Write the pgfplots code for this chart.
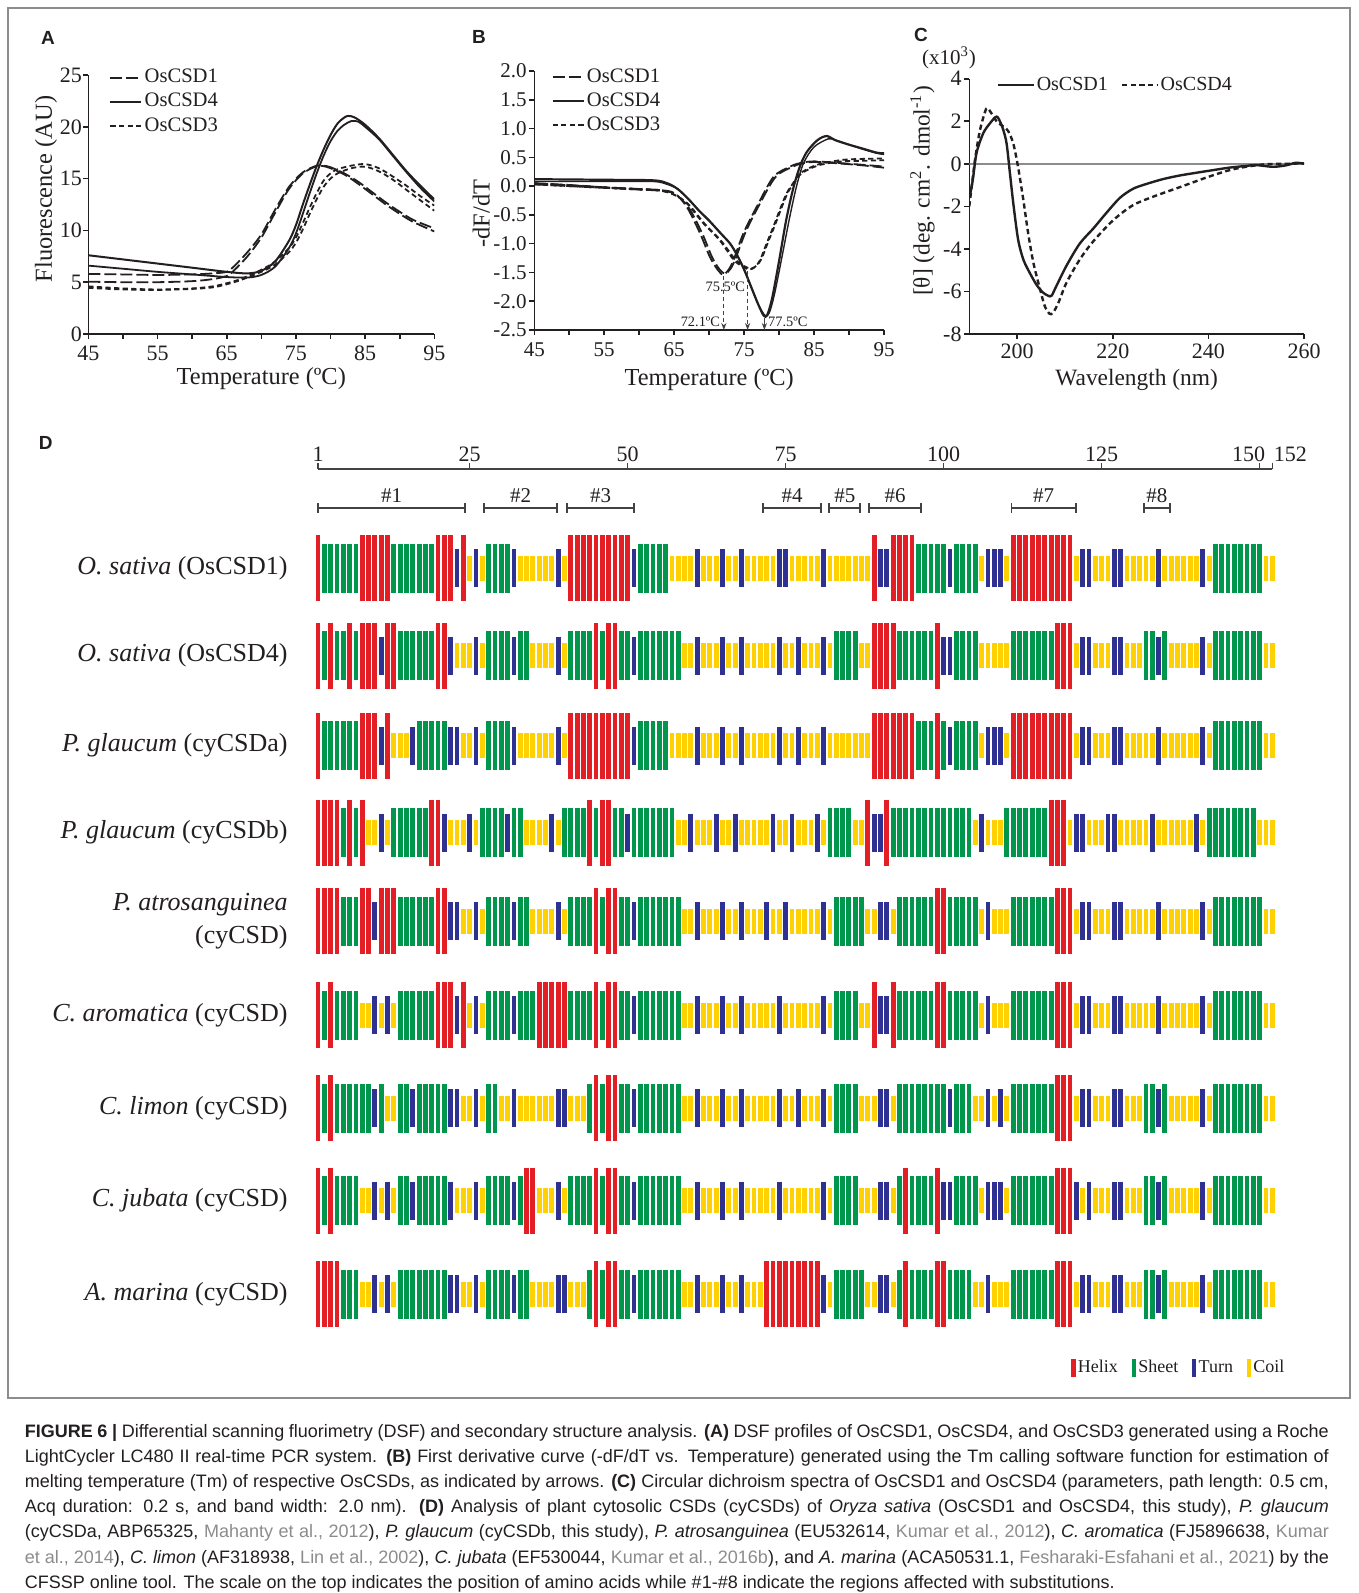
\documentclass[border=0pt]{standalone}
\usepackage{pgfplots}
\pgfplotsset{compat=1.18}
\usepackage{pgfplotstable}
\usepackage{fontspec}
\setmainfont{Liberation Serif}
\newfontfamily\capfont{Liberation Sans}
\usetikzlibrary{arrows.meta}

\definecolor{ink}{HTML}{231F20}
\definecolor{cH}{HTML}{E31E24}
\definecolor{cE}{HTML}{00964B}
\definecolor{cT}{HTML}{2E3192}
\definecolor{cC}{HTML}{FFD100}
\definecolor{citegray}{HTML}{8C8C8C}

\pgfplotsset{
  panel/.style={scale only axis, anchor=south west,
    axis x line=bottom, axis y line=left,
    axis line style={-, ink, line width=0.8pt},
    tick style={ink, line width=0.8pt},
    tick align=outside, major tick length=2.5pt, minor tick length=2.5pt,
    /pgf/number format/assume math mode=true,
    tick label style={font=\fontsize{11}{13}\selectfont, text=ink, inner sep=1.2pt},
    label style={font=\fontsize{12.2}{14}\selectfont, text=ink},
    legend cell align=left,
    legend style={draw=none, fill=none, inner sep=0pt, row sep=1.5pt,
      font=\fontsize{10.3}{12}\selectfont, text=ink, nodes={inner sep=1.1pt}},
    legend image code/.code={\draw[##1] (0pt,0pt) -- (15.5pt,0pt);},
    every axis plot/.append style={line width=0.9pt, ink, smooth},
  },
  dsh/.style={dash pattern=on 6pt off 2pt},
  dtt/.style={dash pattern=on 2.6pt off 1.7pt},
  vbar legend/.style={legend image code/.code={\draw[##1] (0pt,-4.7pt) -- (0pt,4.7pt);}},
  ssrow/.style={scatter, only marks, forget plot, scatter src=explicit symbolic,
    scatter/classes={
      H={mark=|, mark size=16.5pt, draw=cH, line width=2.4pt},
      E={mark=|, mark size=12.25pt, draw=cE, line width=2.4pt},
      T={mark=|, mark size=9.5pt, draw=cT, line width=2.4pt},
      C={mark=|, mark size=6.25pt, draw=cC, line width=2.4pt}}},
}

% secondary structure per residue (CFSSP), one column per sequence
\pgfplotstableread{
r c1 c2 c3 c4 c5 c6 c7 c8 c9
1 H H H H H H H H H
2 E E E H H E E E H
3 E H E H H H H H H
4 E E E H H E E E H
5 E E E E E E E E E
6 E H E H E E E E E
7 E E E E E E E E E
8 H H H H H C E C C
9 H H H C H C E C C
10 H H H C T T T T T
11 H T T T H C E C C
12 H H H C H T C T T
13 E H C E H C C C C
14 E E C E E E E E E
15 E E C E E E E E E
16 E E T E E E T T E
17 E E E E E E E E E
18 E E E E E E E E E
19 E E E H E E E E E
20 H H E H H H E E E
21 H H E T H H E E E
22 H T T C T H T T T
23 T C T C T T T C T
24 H C C C C H C C C
25 C C C T C C C C C
26 T T T C T T T T T
27 C C C E C C C C C
28 E E E E E E E E E
29 E E E E E E E E E
30 E E E E E E C E E
31 E E E T E E C E E
32 T T T E T T T T T
33 C E C E E E C E E
34 C E C C E E C H E
35 C C C C C E C H C
36 C C C C C H C C C
37 C C C C C H C C C
38 C C C T C H C C C
39 T T T C T H T T T
40 C C C E C H T C T
41 H E H E E E C E C
42 H E H E E E C E C
43 H E H E E E C E C
44 H E H H E E E E E
45 H H H E H H H H H
46 H E H H E E E E E
47 H H H H H H H H H
48 H H H E H H H H H
49 H E H E E E E E E
50 H E H T E E E E E
51 T T T E T T T T T
52 E E E E E E E E E
53 E E E E E E E E E
54 E E E E E E E E E
55 E E E E E E E E E
56 E E E E E E E E E
57 C E C E E E E E E
58 C E C C E E E E E
59 C C C C C C C C C
60 C C C T C C C C C
61 T T T C T T T T T
62 C C C C C C C C C
63 C C C C C C C C C
64 C C C T C C C C C
65 T T T C T T T T T
66 C C C C C C C C C
67 C C C T C C C C C
68 T T T C T T T T T
69 C C C C C C C C C
70 C C C C C C C C C
71 C C C C C C C C C
72 C C C C T C C C H
73 C C C T C C C C H
74 T T T C C T T T H
75 T C C C T C C C H
76 C C C T C C C C H
77 C T T C C C T C H
78 C C C C C C C C H
79 C C C C C C C C H
80 C C C T C C C C H
81 T T T C T T T T T
82 C C C E C C C C C
83 C E C E E E E E E
84 C E C E E E E E E
85 C E C E E E E E E
86 C E C C E E E E E
87 C C C C E C C C E
88 C C C H C C C C C
89 H H H T C H C C C
90 T H H T T T T T T
91 T H H H T T T T T
92 H H H E C H C C C
93 H E H E E E E E E
94 H E H E E E E H H
95 H E H E E E E E E
96 E E E E E E E E E
97 E E E E E E E E E
98 E E E E E E E E E
99 E H H E H H E H H
100 E T E E H H E T H
101 T T T E E E T T E
102 E E E E E E E E E
103 E E E E E E E E E
104 E E E E E E E E E
105 E E E C E E C E C
106 C C C T C C C C C
107 T C T C T T T T T
108 T C T C C C C T C
109 T C T C C C T T C
110 C C C E C C C C C
111 H E H E E E E E E
112 H E H E E E E E E
113 H E H E E E E E E
114 H E H E E E E E E
115 H E H E E E E E E
116 H E H E E E E E E
117 H E H H E E E E E
118 H H H H H H H H H
119 H H H H H H H H H
120 H H H C H H H H H
121 C C C T C C C T C
122 T T T T T T T C T
123 T T T C T T T T T
124 C C C C C C C C C
125 C C C C C C C C C
126 C C C T C C C C C
127 T T T T T T T T T
128 T T T C T T T T T
129 C C C C C C C C C
130 C C C C C C C C C
131 C C C C C C C C C
132 C E C C C C E E E
133 C E C T C C E E E
134 T T T C T T T T T
135 C E C C C C E E E
136 C C C C C C C C C
137 C C C C C C C C C
138 C C C C C C C C C
139 C C C C C C C C C
140 C C C T C C C C C
141 T T T C T T T T T
142 C C C E C C C C C
143 E E E E E E E E E
144 E E E E E E E E E
145 E E E E E E E E E
146 E E E E E E E E E
147 E E E E E E E E E
148 E E E E E E E E E
149 E E E E E E E E E
150 E E E C E E E E E
151 C C C C C C C C C
152 C C C C C C C C C
}\sstab

\newcommand\spl[2]{%
  \node[anchor=east, inner sep=0pt, font=\fontsize{13}{15}\selectfont, text=ink] at (axis cs:-3.75,#1) {#2};
  \draw[black!60, line width=0.6pt] (axis cs:-0.19,#1) ++(0,17.5pt) -- ++(-2.75pt,0) -- ++(0,-35pt) -- ++(2.75pt,0);}
\newcommand\regbr[4]{%
  \draw[ink!85, line width=1.2pt] (axis cs:#1,-508) -- (axis cs:#2,-508);
  \draw[ink!85, line width=0.8pt] (axis cs:#1,-503) -- (axis cs:#1,-513) (axis cs:#2,-503) -- (axis cs:#2,-513);
  \node[font=\fontsize{10.5}{12}\selectfont, text=ink, inner sep=0pt] at (axis cs:#3,-496) {\##4};}
\newcommand\capline[2]{\node[anchor=base west, inner sep=0pt, text=ink,
  font=\capfont\fontsize{9}{11}\selectfont] at (12.2pt,#1) {\makebox[652pt][s]{#2}};}
\newcommand\caplinel[2]{\node[anchor=base west, inner sep=0pt, text=ink,
  font=\capfont\fontsize{9}{11}\selectfont] at (12.2pt,#1) {#2};}
\newcommand\cit[1]{\textcolor{citegray}{#1}}

\begin{document}
\begin{tikzpicture}
\useasboundingbox (0,0) rectangle (679pt,-796.5pt);
\fill[white] (0,0) rectangle (679pt,-796.5pt);
\draw[black!45, line width=0.6pt] (4pt,-4pt) rectangle (675pt,-699pt);

% panel letters
\node[font=\capfont\bfseries\fontsize{9.5}{10}\selectfont, text=ink] at (24pt,-19pt) {A};
\node[font=\capfont\bfseries\fontsize{9.5}{10}\selectfont, text=ink] at (239.5pt,-18.5pt) {B};
\node[font=\capfont\bfseries\fontsize{9.5}{10}\selectfont, text=ink] at (460.5pt,-17.5pt) {C};
\node[font=\capfont\bfseries\fontsize{9.5}{10}\selectfont, text=ink] at (22.85pt,-221.5pt) {D};

% ---------------- A ----------------
\begin{axis}[panel, at={(44.15pt,-167pt)}, width=173pt, height=129.5pt,
  xmin=45, xmax=95, ymin=0, ymax=25,
  xtick={45,55,...,95}, minor xtick={50,60,...,90}, ytick={0,5,...,25},
  xticklabel style={yshift=-2pt}, yticklabel style={xshift=0.7pt},
  xlabel={Temperature (ºC)}, ylabel={Fluorescence (AU)},
  xlabel style={at={(axis description cs:0.5,-0.172)}, anchor=center},
  ylabel style={at={(axis description cs:-0.122,0.56)}, anchor=center},
  legend style={at={(axis description cs:0.06,1.032)}, anchor=north west}]
\addplot[dsh] coordinates {(45,5.8)(50,5.75)(55,5.7)(60,5.75)(63,5.85)(65,6.0)(66,6.5)(68,7.9)(70,9.6)(72,12.0)(74,14.2)(76,15.6)(78,16.25)(79,16.25)(80,16.1)(82,15.5)(84,14.7)(86,13.7)(88,12.7)(90,11.8)(92,11.0)(95,10.2)};
\addlegendentry{OsCSD1}
\addplot[line width=1pt] coordinates {(45,7.6)(50,7.2)(55,6.8)(60,6.4)(65,6.0)(68,5.85)(70,6.1)(72,7.0)(74,9.0)(75,10.5)(76,12.5)(77,14.4)(78,16.2)(79,17.8)(80,19.2)(81,20.3)(82,20.9)(82.6,21.05)(83.5,20.9)(85,20.2)(87,18.9)(89,17.3)(91,15.7)(93,14.3)(95,13.0)};
\addlegendentry{OsCSD4}
\addplot[dtt] coordinates {(45,4.6)(50,4.4)(55,4.3)(60,4.4)(63,4.6)(65,4.9)(67,5.3)(70,6.2)(72,7.0)(74,8.3)(75,9.3)(76,10.7)(77,12.2)(78,13.6)(79,14.8)(80,15.5)(81,15.9)(83,16.25)(85,16.4)(87,16.0)(89,15.2)(91,14.3)(93,13.3)(95,12.4)};
\addlegendentry{OsCSD3}
\addplot[dsh, forget plot] coordinates {(45,5.05)(50,5.0)(55,5.0)(60,5.1)(63,5.3)(65,5.6)(66,6.1)(68,7.5)(70,9.3)(72,11.7)(74,14.0)(76,15.5)(78,16.2)(79,16.2)(80,16.0)(82,15.4)(84,14.5)(86,13.5)(88,12.5)(90,11.6)(92,10.8)(95,9.9)};
\addplot[forget plot] coordinates {(45,6.6)(50,6.3)(55,6.0)(60,5.75)(65,5.5)(68,5.45)(70,5.7)(72,6.5)(74,8.3)(75,9.7)(76,11.6)(77,13.6)(78,15.5)(79,17.2)(80,18.6)(81,19.6)(82,20.2)(83,20.55)(84,20.5)(85,20.0)(87,18.8)(89,17.2)(91,15.6)(93,14.1)(95,12.8)};
\addplot[dtt, forget plot] coordinates {(45,4.45)(50,4.3)(55,4.25)(60,4.35)(63,4.5)(65,4.8)(67,5.2)(70,6.0)(72,6.7)(74,7.9)(75,8.8)(76,10.1)(77,11.6)(78,13.0)(79,14.2)(80,15.0)(81,15.5)(83,16.0)(85,16.15)(87,15.7)(89,14.9)(91,13.9)(93,12.9)(95,11.9)};
\end{axis}

% ---------------- B ----------------
\begin{axis}[panel, at={(267.15pt,-165pt)}, width=174.85pt, height=129.5pt,
  xmin=45, xmax=95, ymin=-2.5, ymax=2.0,
  xtick={45,55,...,95}, minor xtick={50,60,...,90}, ytick={-2.5,-2,...,2},
  yticklabel style={/pgf/number format/.cd, fixed, fixed zerofill, precision=1},
  tick label style={font=\fontsize{10.5}{12}\selectfont},
  xticklabel style={yshift=-2.5pt},
  xlabel={Temperature (ºC)}, ylabel={-dF/dT},
  xlabel style={at={(axis description cs:0.5,-0.19)}, anchor=center},
  ylabel style={at={(axis description cs:-0.152,0.45)}, anchor=center},
  legend style={at={(axis description cs:0.048,1.02)}, anchor=north west}]
\addplot[dsh] coordinates {(45,0.05)(50,0.02)(55,-0.02)(60,-0.05)(63,-0.07)(65,-0.12)(66.8,-0.36)(68.7,-0.82)(70.1,-1.23)(71.2,-1.45)(72,-1.54)(72.8,-1.45)(73.5,-1.28)(74.9,-0.82)(76.8,-0.36)(79.2,0.16)(81.6,0.34)(83,0.40)(85,0.43)(88.7,0.40)(92,0.37)(95,0.34)};
\addlegendentry{OsCSD1}
\addplot[line width=1.1pt] coordinates {(45,0.12)(55,0.11)(62,0.1)(64,0.05)(65.5,-0.05)(67,-0.22)(68.5,-0.42)(70,-0.6)(71.5,-0.8)(73,-1.0)(74,-1.2)(75,-1.45)(76,-1.75)(77,-2.05)(77.8,-2.25)(78.3,-2.24)(79,-1.95)(80,-1.3)(81,-0.6)(82,-0.05)(83,0.35)(84,0.6)(85.5,0.80)(86.8,0.87)(88,0.8)(90,0.72)(92,0.65)(94,0.58)(95,0.57)};
\addlegendentry{OsCSD4}
\addplot[dtt] coordinates {(45,0.05)(55,-0.02)(60,-0.05)(63,-0.07)(65,-0.15)(66.8,-0.30)(69.2,-0.65)(71.5,-0.94)(73.5,-1.28)(74.8,-1.40)(75.8,-1.45)(76.6,-1.40)(77.3,-1.28)(78.2,-1.0)(79.2,-0.70)(80.2,-0.38)(81.1,-0.12)(82,0.05)(83,0.22)(85.4,0.37)(88.7,0.45)(91,0.47)(95,0.48)};
\addlegendentry{OsCSD3}
\addplot[dsh, forget plot] coordinates {(45,0.03)(50,0.0)(55,-0.03)(60,-0.06)(63,-0.08)(65,-0.13)(67,-0.36)(69,-0.82)(70.4,-1.23)(71.5,-1.45)(72.3,-1.52)(73.1,-1.43)(73.8,-1.25)(75.2,-0.8)(77.1,-0.34)(79.5,0.16)(82,0.34)(83.5,0.40)(85.5,0.42)(89,0.39)(92,0.36)(95,0.32)};
\addplot[line width=0.7pt, forget plot] coordinates {(45,0.08)(55,0.08)(62,0.08)(64,0.03)(65.5,-0.05)(67,-0.22)(68.5,-0.42)(70,-0.6)(71.5,-0.8)(73,-1.0)(74,-1.2)(75,-1.45)(76,-1.75)(77,-2.05)(78,-2.25)(78.6,-2.2)(79.3,-1.9)(80.3,-1.3)(81.5,-0.55)(82.5,0.0)(83.5,0.4)(85,0.68)(87,0.82)(88,0.8)(90,0.72)(92,0.64)(94,0.57)(95,0.55)};
\addplot[dtt, forget plot] coordinates {(45,0.03)(55,-0.03)(60,-0.06)(63,-0.08)(65,-0.15)(67,-0.31)(69.4,-0.66)(71.7,-0.95)(73.7,-1.27)(75,-1.39)(76,-1.43)(76.8,-1.38)(77.5,-1.26)(78.4,-0.98)(79.4,-0.68)(80.4,-0.36)(81.3,-0.1)(82.2,0.06)(83.2,0.22)(85.6,0.36)(89,0.43)(92,0.44)(95,0.45)};
\draw[ink!85, line width=0.5pt, dash pattern=on 2pt off 1.5pt, -{Stealth[length=3.5pt,width=2.6pt]}] (axis cs:72.1,-1.56) -- (axis cs:72.1,-2.5);
\draw[ink!85, line width=0.5pt, dash pattern=on 2pt off 1.5pt, -{Stealth[length=3.5pt,width=2.6pt]}] (axis cs:75.5,-1.47) -- (axis cs:75.5,-2.5);
\draw[ink!85, line width=0.5pt, -{Stealth[length=3.5pt,width=2.6pt]}] (axis cs:77.9,-2.3) -- (axis cs:77.9,-2.5);
\node[anchor=east, font=\fontsize{7.2}{8}\selectfont, text=ink, inner sep=1pt] at (axis cs:71.9,-2.36) {72.1ºC};
\node[font=\fontsize{7.2}{8}\selectfont, text=ink, inner sep=1pt] at (axis cs:72.3,-1.75) {75.5ºC};
\node[anchor=west, font=\fontsize{7.2}{8}\selectfont, text=ink, inner sep=1pt] at (axis cs:78.1,-2.36) {77.5ºC};
\end{axis}

% ---------------- C ----------------
\begin{axis}[panel, at={(484.65pt,-167pt)}, width=167.35pt, height=127.65pt,
  xmin=190, xmax=260, ymin=-8, ymax=4,
  xtick={200,220,240,260}, ytick={-8,-6,...,4},
  tick label style={font=\fontsize{11}{13}\selectfont},
  xticklabel style={yshift=-1pt},
  label style={font=\fontsize{11.7}{13}\selectfont},
  xlabel={Wavelength (nm)}, ylabel={[θ] (deg. cm\textsuperscript{2}. dmol\textsuperscript{-1})},
  xlabel style={at={(axis description cs:0.5,-0.18)}, anchor=center},
  ylabel style={at={(axis description cs:-0.14,0.56)}, anchor=center},
  legend columns=2,
  legend image code/.code={\draw[#1] (0pt,0pt) -- (18pt,0pt);},
  legend style={at={(axis description cs:0.082,0.975)}, anchor=west, font=\fontsize{10}{12}\selectfont,
    /tikz/every even column/.append style={column sep=6pt}, nodes={inner sep=0.6pt}}]
\addplot[black!45, line width=0.8pt, sharp plot, forget plot] coordinates {(190,0)(260,0)};
\addplot[line width=1.2pt] coordinates {(190,-1.6)(190.7,-0.8)(191.5,0.5)(192.9,1.43)(194.3,1.9)(195.4,2.18)(195.9,2.2)(196.5,1.95)(197.1,1.6)(197.8,0.95)(198.5,-0.45)(199.2,-1.86)(200.2,-3.55)(201.3,-4.5)(202.7,-5.15)(204.1,-5.7)(205.4,-6.05)(206.5,-6.2)(207.2,-6.2)(208.2,-5.75)(210.3,-4.8)(213.1,-3.75)(215.9,-3.05)(218.7,-2.3)(221.5,-1.6)(224.2,-1.18)(227,-0.95)(230.5,-0.72)(234,-0.55)(237.5,-0.42)(240.9,-0.3)(244.4,-0.18)(247.9,-0.1)(250,-0.06)(253.5,-0.14)(256.3,-0.07)(258.3,0.05)(260,0)};
\addlegendentry{OsCSD1}
\addplot[line width=1.2pt, dtt] coordinates {(190,-2.0)(191.2,0.2)(192.2,1.55)(193.3,2.45)(193.8,2.62)(194.7,2.35)(195.7,2.0)(197.1,1.75)(198.1,1.55)(199.2,0.95)(200.2,-0.15)(201.3,-1.7)(202.3,-3.25)(203.4,-4.65)(204.8,-5.9)(205.8,-6.7)(206.8,-7.05)(207.5,-7.0)(208.6,-6.55)(210.3,-5.6)(213.1,-4.5)(215.9,-3.65)(220.1,-2.65)(224.2,-1.95)(228.4,-1.55)(234,-1.1)(239.9,-0.62)(244.4,-0.3)(247.9,-0.14)(252.1,-0.02)(256,0.0)(260,0.02)};
\addlegendentry{OsCSD4}
\end{axis}
\node[font=\fontsize{10.5}{12}\selectfont, text=ink] at (474.5pt,-29pt) {(x10\textsuperscript{3})};

% ---------------- D ----------------
\begin{axis}[at={(157.42pt,-700pt)}, anchor=south west, x=3.16pt, y=0.5pt,
  xmin=0.5, xmax=152.5, ymin=-1400, ymax=-430, hide axis, clip=false,
  legend columns=4,
  legend style={at={(axis cs:120.1,-1368)}, anchor=west, draw=none, fill=none,
    inner sep=0pt, font=\fontsize{9}{10}\selectfont, text=ink,
    nodes={inner sep=1.2pt}, /tikz/every even column/.append style={column sep=5.6pt}}]
\addplot[ssrow] table[x=r, y expr=-568, meta=c1] {\sstab};
\addplot[ssrow] table[x=r, y expr=-655.5, meta=c2] {\sstab};
\addplot[ssrow] table[x=r, y expr=-745.5, meta=c3] {\sstab};
\addplot[ssrow] table[x=r, y expr=-832.5, meta=c4] {\sstab};
\addplot[ssrow] table[x=r, y expr=-921, meta=c5] {\sstab};
\addplot[ssrow] table[x=r, y expr=-1015, meta=c6] {\sstab};
\addplot[ssrow] table[x=r, y expr=-1108, meta=c7] {\sstab};
\addplot[ssrow] table[x=r, y expr=-1200.5, meta=c8] {\sstab};
\addplot[ssrow] table[x=r, y expr=-1294, meta=c9] {\sstab};
\addlegendimage{vbar legend, cH, line width=2.2pt}\addlegendentry{Helix}
\addlegendimage{vbar legend, cE, line width=2.2pt}\addlegendentry{Sheet}
\addlegendimage{vbar legend, cT, line width=2.2pt}\addlegendentry{Turn}
\addlegendimage{vbar legend, cC, line width=2.2pt}\addlegendentry{Coil}
% scale
\draw[ink!85, line width=0.6pt] (axis cs:1,-469) -- (axis cs:152,-469);
\pgfplotsinvokeforeach{1,25,50,75,100,125}{
  \draw[ink!85, line width=0.6pt] (axis cs:#1,-469) -- (axis cs:#1,-463)
    node[anchor=south, inner sep=0pt, yshift=0.3pt, font=\fontsize{11}{12}\selectfont, text=ink] {#1};}
\draw[ink!85, line width=0.6pt] (axis cs:150,-469) -- (axis cs:150,-463)
    node[anchor=south east, inner sep=0pt, xshift=3pt, yshift=0.3pt, font=\fontsize{11}{12}\selectfont, text=ink] {150};
\draw[ink!85, line width=0.6pt] (axis cs:152,-469) -- (axis cs:152,-463)
    node[anchor=south west, inner sep=0pt, xshift=0.5pt, yshift=0.3pt, font=\fontsize{11}{12}\selectfont, text=ink] {152};
% regions with substitutions
\regbr{1}{24.3}{12.65}{1}
\regbr{27.3}{38.8}{33.05}{2}
\regbr{40.4}{51}{45.7}{3}
\regbr{71.4}{80.6}{76}{4}
\regbr{81.9}{86.8}{84.35}{5}
\regbr{88.2}{96.4}{92.3}{6}
\regbr{110.7}{120.9}{115.8}{7}
\regbr{131.7}{135.8}{133.75}{8}
% sequence names
\spl{-568}{\textit{O. sativa} (OsCSD1)}
\spl{-655.5}{\textit{O. sativa} (OsCSD4)}
\spl{-745.5}{\textit{P. glaucum} (cyCSDa)}
\spl{-832.5}{\textit{P. glaucum} (cyCSDb)}
\spl{-921}{\begin{tabular}{@{}r@{}}\textit{P. atrosanguinea}\\[1.2pt](cyCSD)\end{tabular}}
\spl{-1015}{\textit{C. aromatica} (cyCSD)}
\spl{-1108}{\textit{C. limon} (cyCSD)}
\spl{-1200.5}{\textit{C. jubata} (cyCSD)}
\spl{-1294}{\textit{A. marina} (cyCSD)}
\end{axis}

% ---------------- caption ----------------
\capline{-718.5pt}{\textbf{FIGURE 6 |} Differential scanning fluorimetry (DSF) and secondary structure analysis. \textbf{(A)} DSF profiles of OsCSD1, OsCSD4, and OsCSD3 generated using a Roche}
\capline{-731.1pt}{LightCycler LC480 II real-time PCR system. \textbf{(B)} First derivative curve (-dF/dT vs. Temperature) generated using the Tm calling software function for estimation of}
\capline{-743.7pt}{melting temperature (Tm) of respective OsCSDs, as indicated by arrows. \textbf{(C)} Circular dichroism spectra of OsCSD1 and OsCSD4 (parameters, path length: 0.5 cm,}
\capline{-756.3pt}{Acq duration: 0.2 s, and band width: 2.0 nm). \textbf{(D)} Analysis of plant cytosolic CSDs (cyCSDs) of \textit{Oryza sativa} (OsCSD1 and OsCSD4, this study), \textit{P. glaucum}}
\capline{-768.9pt}{(cyCSDa, ABP65325, \cit{Mahanty et al., 2012}), \textit{P. glaucum} (cyCSDb, this study), \textit{P. atrosanguinea} (EU532614, \cit{Kumar et al., 2012}), \textit{C. aromatica} (FJ5896638, \cit{Kumar}}
\capline{-781.5pt}{\cit{et al., 2014}), \textit{C. limon} (AF318938, \cit{Lin et al., 2002}), \textit{C. jubata} (EF530044, \cit{Kumar et al., 2016b}), and \textit{A. marina} (ACA50531.1, \cit{Fesharaki-Esfahani et al., 2021}) by the}
\caplinel{-794.1pt}{CFSSP online tool. The scale on the top indicates the position of amino acids while \#1-\#8 indicate the regions affected with substitutions.}
\end{tikzpicture}
\end{document}
